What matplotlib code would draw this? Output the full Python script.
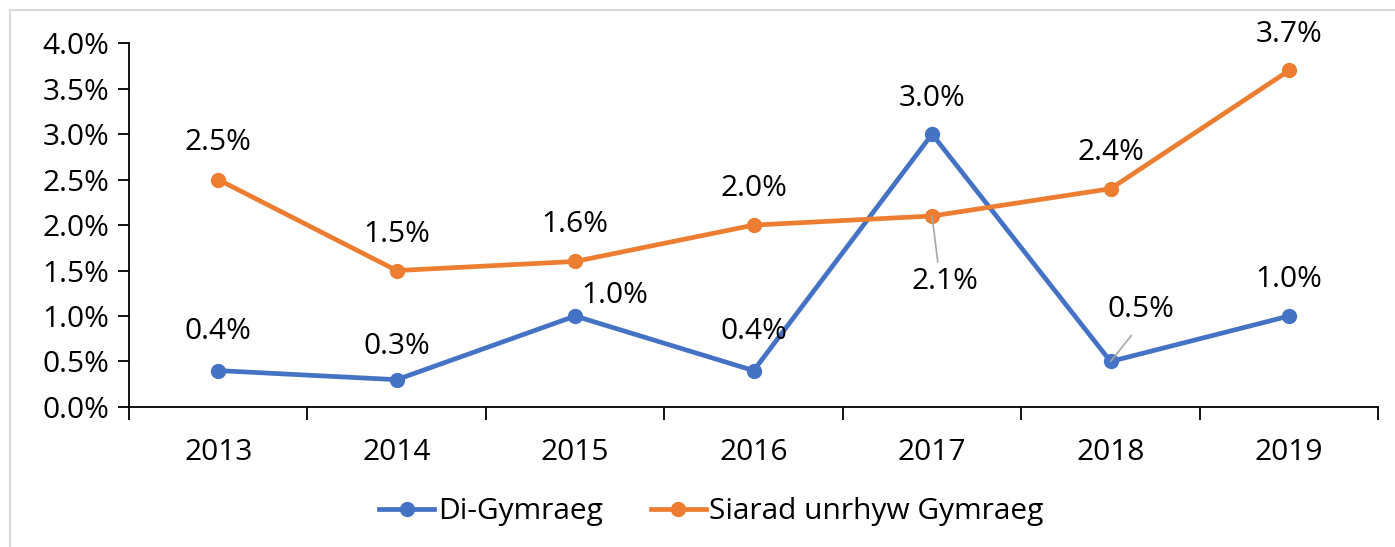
import matplotlib.pyplot as plt
from matplotlib.lines import Line2D

years = ["2013", "2014", "2015", "2016", "2017", "2018", "2019"]
di_gymraeg = [0.4, 0.3, 1.0, 0.4, 3.0, 0.5, 1.0]
siarad = [2.5, 1.5, 1.6, 2.0, 2.1, 2.4, 3.7]

# label offsets in pixels (dx, dy) from each point
di_offsets = [(0, 39), (0, 33), (40, 21), (0, 39), (0, 36), (30, 52), (0, 37)]
si_offsets = [(0, 37), (0, 36), (0, 37), (0, 37), (13, -66), (0, 36), (0, 36)]

blue = "#4472C4"
orange = "#ED7D31"

plt.rcParams["font.family"] = ["Open Sans", "DejaVu Sans"]
plt.rcParams["font.size"] = 21.5

fig = plt.figure(figsize=(13.95, 5.47), dpi=100)
ax = fig.add_axes([0.0925, 0.256, 0.8955, 0.665])

x = list(range(len(years)))
ax.plot(x, di_gymraeg, color=blue, lw=3.4, marker="o", ms=10, label="Di-Gymraeg",
        solid_capstyle="round")
ax.plot(x, siarad, color=orange, lw=3.4, marker="o", ms=10, label="Siarad unrhyw Gymraeg",
        solid_capstyle="round")

def label(vals, offsets):
    for i, (v, (dx, dy)) in enumerate(zip(vals, offsets)):
        arrow = None
        if abs(dy) > 45:
            if dy < 0:
                arrow = dict(arrowstyle="-", color="#A6A6A6", lw=1.2,
                             relpos=(0.4, 1.0), shrinkA=2, shrinkB=0)
            else:
                arrow = dict(arrowstyle="-", color="#A6A6A6", lw=1.2,
                             relpos=(0.5, 0.0), shrinkA=8, shrinkB=0)
        ax.annotate(f"{v:.1f}%", (i, v), xytext=(dx, dy), textcoords="offset pixels",
                    ha="center", va="center", arrowprops=arrow)

label(siarad, si_offsets)
label(di_gymraeg, di_offsets)

ax.set_xlim(-0.5, len(years) - 0.5)
ax.set_ylim(0, 4.0)
ax.set_yticks([i * 0.5 for i in range(9)])
ax.set_yticklabels([f"{i * 0.5:.1f}%" for i in range(9)])
ax.set_xticks(x)
ax.set_xticklabels(years)
ax.set_xticks([i - 0.5 for i in range(len(years) + 1)], minor=True)
ax.tick_params(axis="x", which="major", length=0, pad=22)
ax.tick_params(axis="x", which="minor", length=9, width=1.3, direction="out")
ax.tick_params(axis="y", length=8, width=1.3, pad=6)
for s in ["top", "right"]:
    ax.spines[s].set_visible(False)
ax.spines["left"].set_linewidth(1.3)
ax.spines["bottom"].set_linewidth(1.3)

handles = [Line2D([], [], color=blue, lw=3.4, marker="o", ms=10),
           Line2D([], [], color=orange, lw=3.4, marker="o", ms=10)]
fig.legend(handles, ["Di-Gymraeg", "Siarad unrhyw Gymraeg"], loc="center",
           bbox_to_anchor=(0.510, 0.064), ncol=2, frameon=False,
           handlelength=1.85, handletextpad=0.12, columnspacing=1.6)

# outer chart frame (top and left visible)
fig.add_artist(Line2D([10 / 1395, 10 / 1395], [0, 1 - 10 / 547],
                      transform=fig.transFigure, color="#D9D9D9", lw=1.5))
fig.add_artist(Line2D([10 / 1395, 1], [1 - 10 / 547, 1 - 10 / 547],
                      transform=fig.transFigure, color="#D9D9D9", lw=1.5))

fig.savefig("out.png", dpi=100)
